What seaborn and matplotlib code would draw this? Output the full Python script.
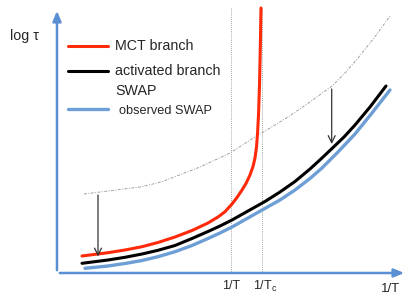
import numpy as np
import pandas as pd
import matplotlib
matplotlib.use("Agg")
import matplotlib.pyplot as plt
import seaborn as sns

# schematic, coordinates (x right, y down like the image)
mct_x = [82, 108, 125, 142, 158, 175, 192, 208, 218, 225, 232, 237, 242, 246, 250, 253,
         255, 256.5, 257.5, 258.5, 259.5, 260.3, 261]
mct_y = [256, 252.7, 250, 246.7, 242.5, 237, 230.5, 223, 217, 211.7, 204, 197.5, 190, 183.5, 175, 166.5,
         158, 147, 134, 115, 85, 48, 8]

act_x = [82, 108, 125, 142, 158, 175, 192, 208, 220, 232, 248, 265, 280, 295, 310, 322,
         332, 344, 355, 370, 386]
act_y = [263.3, 260, 257.3, 254, 250.3, 245.5, 238.5, 231.5, 226, 220, 211, 201.5, 192, 181.5, 169, 158,
         148.5, 137, 125, 107, 86]

obs_x = [85, 108, 125, 142, 158, 175, 192, 208, 220, 232, 248, 263, 280, 295, 310, 322,
         338, 355, 372, 390]
obs_y = [268.3, 266, 263.5, 260.5, 256.7, 251.7, 245.5, 238.5, 233, 227, 218, 209.5, 200, 190, 178.5, 168,
         152, 134, 113, 90]

guide_x = [84, 108, 142, 162, 200, 230, 255, 270, 288, 310, 332, 345, 358, 374, 390]
guide_y = [194, 191, 186.7, 181.7, 167, 153, 137, 128, 117, 102, 86, 73, 58, 38, 16]

vline_x = [231, 262]
tick_labels = ["1/T", "1/T$_\\mathregular{c}$"]
arrow_x = [98, 331.7]

legend_labels = ["MCT branch", "activated branch", "SWAP", "observed SWAP"]

sns.set_style("white")
plt.rcParams["font.family"] = ["Liberation Sans", "DejaVu Sans"]

fig = plt.figure(figsize=(4.15, 3.01), dpi=100)
ax = fig.add_axes([0, 0, 1, 1])
ax.set_xlim(0, 415)
ax.set_ylim(301, 0)
ax.axis("off")

axis_col = "#5b8fd3"
red = "#ff2a0a"
blue = "#6d9fd6"

# axes with arrow heads
ax.annotate("", xy=(57, 8), xytext=(57, 273),
            arrowprops=dict(arrowstyle="-|>,head_length=0.6,head_width=0.25", color=axis_col, lw=1.8))
ax.annotate("", xy=(407, 273), xytext=(57, 273),
            arrowprops=dict(arrowstyle="-|>,head_length=0.6,head_width=0.25", color=axis_col, lw=1.8))

# dotted verticals
for xv in vline_x:
    ax.plot([xv, xv], [8, 272], color="#888888", lw=0.6, ls=(0, (1, 1.5)))

# upper guide curve
sns.lineplot(x=guide_x, y=guide_y, ax=ax, color="#a0a0a0", lw=0.7,
             linestyle=(0, (3, 1.5, 1, 1.5)), sort=False)

# curves
sns.lineplot(x=obs_x, y=obs_y, ax=ax, color=blue, lw=2.4, sort=False)
sns.lineplot(x=act_x, y=act_y, ax=ax, color="black", lw=2.2, sort=False)
sns.lineplot(x=mct_x, y=mct_y, ax=ax, color=red, lw=2.2, sort=False)

# downward arrows from guide to curves
gy = np.interp(arrow_x, guide_x, guide_y)
ay = np.interp(arrow_x, act_x, act_y)
for xa, y0, y1 in zip(arrow_x, gy, ay):
    ax.annotate("", xy=(xa, y1 - 2), xytext=(xa, y0),
                arrowprops=dict(arrowstyle="->,head_length=0.5,head_width=0.25", color="#333333", lw=0.9))

# legend drawn by hand
ax.plot([68, 108], [46, 46], color=red, lw=2.2)
ax.plot([68, 108], [71, 71], color="black", lw=2.2)
ax.plot([68, 108], [109, 109], color=blue, lw=2.4)
ax.text(115, 46, legend_labels[0], fontsize=10.3, va="center")
ax.text(115, 71, legend_labels[1], fontsize=10.3, va="center")
ax.text(115, 91, legend_labels[2], fontsize=10.3, va="center")
ax.text(119, 110.5, legend_labels[3], fontsize=9.2, va="center")

# labels
ax.text(10, 36, "log \u03c4", fontsize=10.3, va="center")
ax.text(vline_x[0], 286, tick_labels[0], fontsize=9, ha="center", va="center")
ax.text(vline_x[1] + 3, 286, tick_labels[1], fontsize=9, ha="center", va="center")
ax.text(391, 289, "1/T", fontsize=9.5, ha="center", va="center")

fig.savefig("out.png", dpi=100)
